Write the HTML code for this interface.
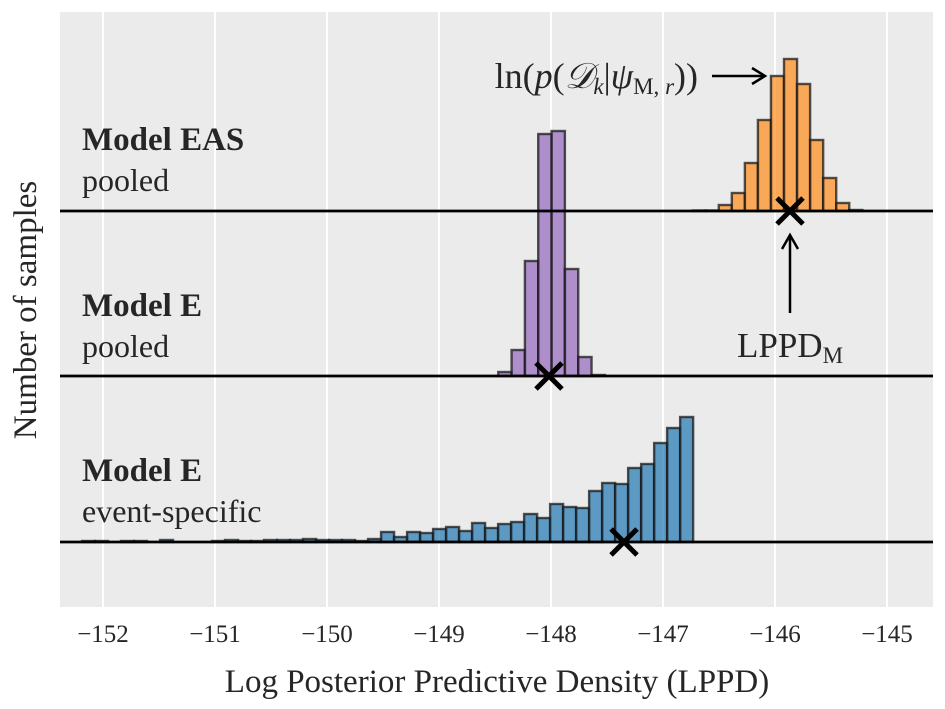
<!DOCTYPE html>
<html><head><meta charset="utf-8"><style>
body{margin:0;background:#fff;}
svg{display:block;font-family:"Liberation Serif",serif;}
</style></head><body>
<svg id="c" width="945" height="709" viewBox="0 0 945 709">
<rect x="60" y="12" width="873" height="595" fill="#ebebeb"/>
<g id="grid"></g><g id="bars"></g><g id="base"></g><g id="marks"></g><g id="ticks"></g>
<text x="82" y="150" font-size="33" font-weight="bold" fill="#262626">Model EAS</text>
<text x="82" y="191" font-size="32" fill="#262626">pooled</text>
<text x="82" y="316" font-size="33" font-weight="bold" fill="#262626">Model E</text>
<text x="82" y="357" font-size="32" fill="#262626">pooled</text>
<text x="82" y="481" font-size="33" font-weight="bold" fill="#262626">Model E</text>
<text x="82" y="522" font-size="32" fill="#262626">event-specific</text>
<text x="698" y="88" font-size="36" text-anchor="end" fill="#262626">ln(<tspan font-style="italic">p</tspan>(<tspan font-style="italic">𝒟</tspan><tspan font-size="23" dy="6" font-style="italic">k</tspan><tspan dy="-6">|</tspan><tspan font-style="italic">ψ</tspan><tspan font-size="23" dy="6">M, </tspan><tspan font-size="23" font-style="italic">r</tspan><tspan dy="-6">))</tspan></text>
<g stroke="#000" stroke-width="2.5" fill="none"><line x1="712" y1="76" x2="764" y2="76"/><polyline points="752,68 765,76 752,84"/></g>
<g stroke="#000" stroke-width="2.5" fill="none"><line x1="790" y1="313" x2="790" y2="236"/><polyline points="782,249 790,235 798,249"/></g>
<text x="790" y="357" font-size="35" text-anchor="middle" fill="#262626">LPPD<tspan font-size="23" dy="6">M</tspan></text>
<text x="497" y="692" font-size="33" text-anchor="middle" fill="#262626">Log Posterior Predictive Density (LPPD)</text>
<text transform="translate(36,310) rotate(-90)" font-size="33" text-anchor="middle" fill="#262626">Number of samples</text>
</svg>
<script>
const xTicks=[-152,-151,-150,-149,-148,-147,-146,-145];
const easStart=-146.735, easWidth=0.1165;
const easCounts=[0.5,0.5,6,18,48,91,135,152,127,71,33,8,1];
const ePooledStart=-148.471, ePooledWidth=0.119;
const ePooledCounts=[4,26,115,242,245,107,19,1];
const eEventStart=-152.1875, eEventWidth=0.1161;
const eEventCounts=[1,1,0,1,1,0,2,0,0,0,1,2,1,1,2,2,2,3,2,2,2,1,3,10,5,10,9,13,15,11,19,14,18,20,28,24,38,35,34,51,59,58,74,78,99,114,125];
const lppd=[-145.866,-148.018,-147.348];
const ns="http://www.w3.org/2000/svg";
const X=v=>103+(v+152)*112;
const baseY=[211,376,542];
function mk(t,a,p){const e=document.createElementNS(ns,t);for(const k in a)e.setAttribute(k,a[k]);document.getElementById(p).appendChild(e);return e;}
xTicks.forEach(t=>{
 const g=mk('line',{x1:X(t),x2:X(t),y1:12,y2:607,stroke:'#fff','stroke-width':2},'grid');
 
 
 const tx=mk('text',{x:X(t),y:642,'font-size':25,'text-anchor':'middle',fill:'#262626'},'ticks');
 tx.textContent='\u2212'+Math.abs(t);
 
 
});
const sets=[[easStart,easWidth,easCounts,'#ff8c1a',0],[ePooledStart,ePooledWidth,ePooledCounts,'#9467bd',1],[eEventStart,eEventWidth,eEventCounts,'#1f77b4',2]];
sets.forEach(([s,w,c,col,k])=>{
 c.forEach((v,i)=>{
  if(v<=0)return;
  const x0=X(s+i*w),x1=X(s+(i+1)*w);
  const r=mk('rect',{x:x0,y:baseY[k]-v,width:x1-x0,height:v,fill:col,'fill-opacity':0.7,stroke:'#1a1a1a','stroke-opacity':0.75,'stroke-width':2.4},'bars');
  
  
 });
});
baseY.forEach(y=>{
 const l=mk('line',{x1:60,x2:933,y1:y,y2:y,stroke:'#000','stroke-width':2.8},'base');
 
 
});
lppd.forEach((v,k)=>{
 const x=X(v),y=baseY[k];
 const p=mk('path',{d:`M${x-13},${y-13}L${x+13},${y+13}M${x-13},${y+13}L${x+13},${y-13}`,stroke:'#000','stroke-width':5},'marks');
 
 
});
</script>
</body></html>
